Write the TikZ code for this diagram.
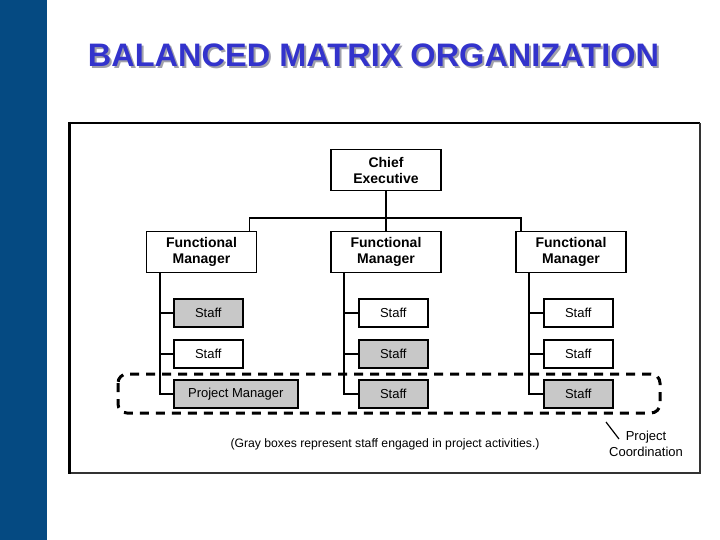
\documentclass[tikz,border=0pt]{standalone}
\usepackage{fontspec}
\setmainfont{Liberation Sans}
\usetikzlibrary{positioning}
\definecolor{barblue}{RGB}{5,74,130}
\definecolor{titleblue}{RGB}{51,51,204}
\definecolor{titleshade}{RGB}{160,160,170}
\definecolor{staffgray}{RGB}{200,200,200}

\tikzset{
  mgrbox/.style={draw, line width=1.6pt, minimum width=110pt, minimum height=41pt,
    inner sep=0pt, align=center, font=\bfseries\fontsize{14}{16}\selectfont},
  staffbox/.style={draw, line width=1.6pt, minimum width=69pt, minimum height=28pt,
    inner sep=0pt, anchor=west, font=\fontsize{13}{15}\selectfont},
  activebox/.style={staffbox, fill=staffgray},
  link/.style={line width=1.6pt}
}

\begin{document}
\begin{tikzpicture}[x=1pt, y=-1pt]
\useasboundingbox (0,0) rectangle (720,540);
% side bar
\fill[barblue] (0,0) rectangle (47,540);

% title with shadow
\node[text=titleshade, font=\bfseries\fontsize{32.5}{36}\selectfont] (titleshadow) at (375.5,57) {BALANCED MATRIX ORGANIZATION};
\node[text=titleblue, font=\bfseries\fontsize{32.5}{36}\selectfont] (title) at (373.5,55) {BALANCED MATRIX ORGANIZATION};

% frame of the chart
\draw[line width=1.6pt] (69,123) -- (700,123);
\draw[line width=1.2pt, black!80] (700,123) -- (700,473) -- (69,473);
\draw[line width=3pt] (69,122) -- (69,474);

% chief and functional managers
\node[mgrbox] (chief) at (386,170) {Chief\\Executive};
\node[mgrbox] (fm1) at (201.5,252) {Functional\\Manager};
\node[mgrbox] (fm2) at (386,252) {Functional\\Manager};
\node[mgrbox] (fm3) at (571,252) {Functional\\Manager};

% staff boxes (gray = engaged in the project)
\node[activebox] (s11) at (173,313) {Staff};
\node[staffbox]  (s12) at (173,354) {Staff};
\node[activebox, minimum width=124pt] (s13) at (173,394) {Project Manager};
\node[staffbox]  (s21) at (358,313) {Staff};
\node[activebox] (s22) at (358,354) {Staff};
\node[activebox] (s23) at (358,394) {Staff};
\node[staffbox]  (s31) at (543,313) {Staff};
\node[staffbox]  (s32) at (543,354) {Staff};
\node[activebox] (s33) at (543,394) {Staff};

% reporting lines
\coordinate (bar) at (386,218);
\draw[link] (chief.south) -- (fm2.north);
\draw[link] ([xshift=-8pt]fm1.north east) |- (bar) -| ([xshift=6pt]fm3.north west);
\foreach \c in {1,2,3}{
  \coordinate (sp\c) at ([xshift=14pt]fm\c.south west);
  \draw[link] (sp\c) |- (s\c3.west);
  \foreach \r in {1,2}{
    \draw[link] (s\c\r.west) -- (s\c\r.west -| sp\c);
  }
}

% project coordination loop
\coordinate (pcnw) at (118,374);
\coordinate (pcse) at (660,413);
\draw[line width=3pt, dash pattern=on 9pt off 7pt, rounded corners=9pt] (pcnw) rectangle (pcse);
\node[align=center, font=\fontsize{13}{16}\selectfont] (pc) at (646,444) {Project\\Coordination};
\coordinate (tick) at (606,422);
\draw[line width=1.2pt] (tick) -- (619,439);

% note
\node[font=\fontsize{12.2}{14}\selectfont] (note) at (385,444) {(Gray boxes represent staff engaged in project activities.)};
\end{tikzpicture}
\end{document}
